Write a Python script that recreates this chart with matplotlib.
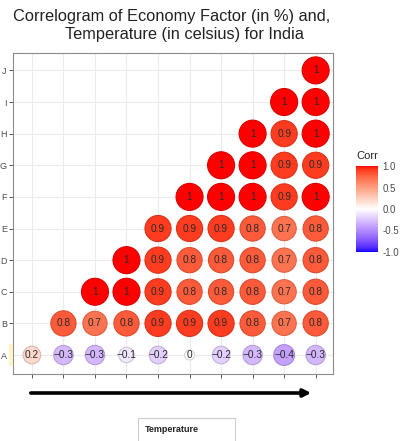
import numpy as np
import matplotlib.pyplot as plt
from matplotlib.colors import ListedColormap, Normalize
from matplotlib.patches import FancyArrowPatch, Rectangle
import matplotlib.cm as cm

plt.rcParams['font.family'] = ['Liberation Sans', 'DejaVu Sans']

# ---- data (lower triangle, row by row) ----
row_labels = ['A', 'B', 'C', 'D', 'E', 'F', 'G', 'H', 'I', 'J']
n_cols = 10
row_A = [0.2, -0.3, -0.3, -0.1, -0.2, 0, -0.2, -0.3, -0.4, -0.3]
row_B = [0.8, 0.7, 0.8, 0.9, 0.9, 0.9, 0.8, 0.7, 0.8]
row_C = [1, 1, 0.9, 0.8, 0.8, 0.8, 0.7, 0.8]
row_D = [1, 0.9, 0.8, 0.8, 0.8, 0.7, 0.8]
row_E = [0.9, 0.9, 0.9, 0.8, 0.7, 0.8]
row_F = [1, 1, 1, 0.9, 1]
row_G = [1, 1, 0.9, 0.9]
row_H = [1, 0.9, 1]
row_I = [1, 1]
row_J = [1]
all_rows = [row_A, row_B, row_C, row_D, row_E, row_F, row_G, row_H, row_I, row_J]

title_1 = 'Correlogram of Economy Factor (in %) and,'
title_2 = 'Temperature (in celsius) for India'
box_text = 'Temperature'
cbar_ticks = [-1.0, -0.5, 0.0, 0.5, 1.0]

W, H = 407, 441
fig = plt.figure(figsize=(W / 100, H / 100), dpi=100)

def fx(px):
    return px / W

def fy(py):
    return 1 - py / H

# blue - white - red ramp interpolated in CIE Lab (like ggplot's gradient2)
def lab_to_rgb(lab):
    L, a, b = lab[:, 0], lab[:, 1], lab[:, 2]
    fyv = (L + 16) / 116
    fxv = fyv + a / 500
    fzv = fyv - b / 200
    def finv(t):
        return np.where(t > 6 / 29, t ** 3, 3 * (6 / 29) ** 2 * (t - 4 / 29))
    X = 0.95047 * finv(fxv)
    Y = 1.0 * finv(fyv)
    Z = 1.08883 * finv(fzv)
    M = np.array([[3.2406, -1.5372, -0.4986],
                  [-0.9689, 1.8758, 0.0415],
                  [0.0557, -0.2040, 1.0570]])
    rgb_lin = np.stack([X, Y, Z], axis=1) @ M.T
    rgb_lin = np.clip(rgb_lin, 0, 1)
    rgb = np.where(rgb_lin <= 0.0031308, 12.92 * rgb_lin,
                   1.055 * rgb_lin ** (1 / 2.4) - 0.055)
    return np.clip(rgb, 0, 1)

lab_blue = np.array([32.30, 79.19, -107.86])
lab_white = np.array([100.0, 0.0, 0.0])
lab_red = np.array([53.24, 80.09, 67.20])
t = np.linspace(-1, 1, 256)
labs = np.array([lab_white + (lab_red - lab_white) * v if v >= 0
                 else lab_white + (lab_blue - lab_white) * (-v) for v in t])
cmap = ListedColormap(lab_to_rgb(labs))
norm = Normalize(-1, 1)

# main panel
ax = fig.add_axes([fx(13), fy(374), fx(333) - fx(13), fy(53) - fy(374)])
xs, ys, vals = [], [], []
for i, r in enumerate(all_rows):
    start = n_cols - len(r) + 1
    for j, v in enumerate(r):
        xs.append(start + j)
        ys.append(i + 1)
        vals.append(v)
vals = np.array(vals, dtype=float)

diam_px = 10 + 17 * np.sqrt(np.abs(vals))
sizes = (diam_px * 0.72) ** 2
faces = cmap(norm(vals))
edges = faces.copy()
edges[:, :3] = edges[:, :3] * 0.85
ax.scatter(xs, ys, s=sizes, c=faces, edgecolors=edges, linewidths=0.8, zorder=3)

for x, y, v in zip(xs, ys, vals):
    lab = '0' if v == 0 else ('%g' % v).replace('-', '\u2212')
    ax.text(x, y, lab, ha='center', va='center', fontsize=7.3, color='#2a2a2a', zorder=4)

ax.set_xlim(0.4, 10.55)
ax.set_ylim(0.4, 10.55)
ax.set_xticks(range(1, n_cols + 1))
ax.set_xticklabels([])
ax.set_yticks(range(1, 11))
ax.set_yticklabels(row_labels, fontsize=6.5, color='#4d4d4d')
ax.tick_params(axis='both', length=3, width=0.7, color='#555555', pad=1.5)
ax.grid(True, color='#ebebeb', linewidth=0.8, zorder=0)
ax.set_axisbelow(True)
for sp in ax.spines.values():
    sp.set_color('#8c8c8c')
    sp.set_linewidth(0.8)

# faint highlight next to the 'A' label
fig.add_artist(Rectangle((fx(9), fy(366)), fx(4), fy(344) - fy(366),
                         transform=fig.transFigure, facecolor='#fbf5c8',
                         edgecolor='none'))

# title
fig.text(fx(172), fy(16), title_1, ha='center', va='center', fontsize=11.8, color='#222222')
fig.text(fx(184), fy(35), title_2, ha='center', va='center', fontsize=11.8, color='#222222')

# colorbar
cax = fig.add_axes([fx(356), fy(252), fx(22), fy(166) - fy(252)])
sm = cm.ScalarMappable(norm=norm, cmap=cmap)
cb = fig.colorbar(sm, cax=cax, ticks=cbar_ticks)
cb.outline.set_visible(False)
cb.ax.set_yticklabels(['%.1f' % t for t in cbar_ticks])
cb.ax.tick_params(length=0, labelsize=7, labelcolor='#4d4d4d', pad=3)
fig.text(fx(356), fy(156), 'Corr', ha='left', va='center', fontsize=8, color='#222222')

# arrow under the x axis
fig.add_artist(FancyArrowPatch((fx(28), fy(393)), (fx(314), fy(393)),
                               transform=fig.transFigure, arrowstyle='-|>',
                               mutation_scale=11, linewidth=2.6, color='black'))

# label box
fig.add_artist(Rectangle((fx(138), fy(443)), fx(235) - fx(138), fy(418) - fy(443),
                         transform=fig.transFigure, facecolor='white',
                         edgecolor='#cccccc', linewidth=0.8))
fig.text(fx(145), fy(430), box_text, ha='left', va='center', fontsize=6.5,
         fontweight='bold', color='#222222')

fig.savefig('out.png', dpi=100)
